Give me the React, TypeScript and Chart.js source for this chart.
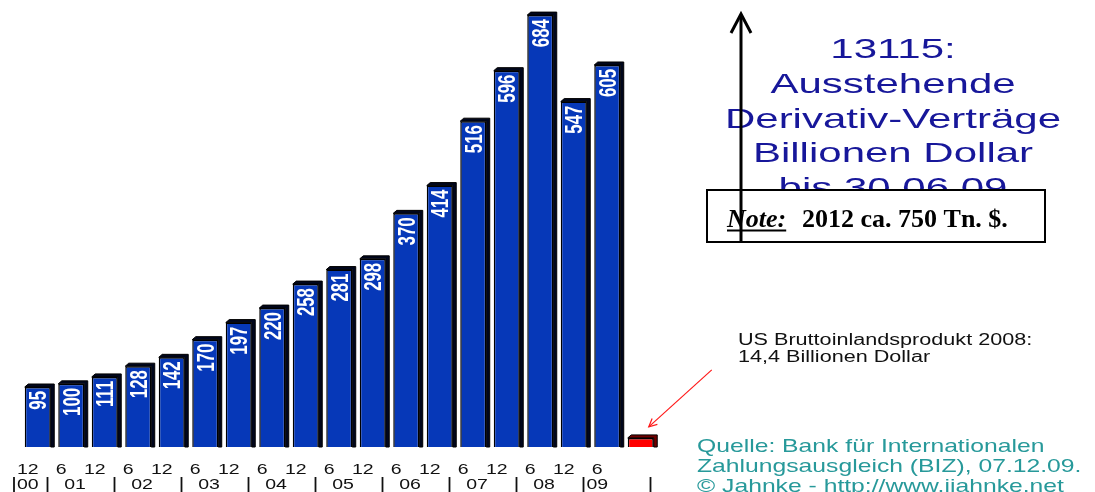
import React, { useEffect, useRef } from "react";
import { Chart, registerables } from "chart.js";

Chart.register(...registerables);

// Outstanding derivative contracts (BIZ), in Billionen Dollar, Dec 2000 .. Jun 2009
const derivativeValues = [95, 100, 111, 128, 142, 170, 197, 220, 258, 281, 298, 370, 414, 516, 596, 684, 547, 605];
// US GDP 2008 for comparison
const gdpValue = 14.4;

const periodLabels = ["12", "6", "12", "6", "12", "6", "12", "6", "12", "6", "12", "6", "12", "6", "12", "6", "12", "6", ""];
const yearLabels = ["00", "01", "02", "03", "04", "05", "06", "07", "08", "09"];

const titleLines = ["13115:", "Ausstehende", "Derivativ-Verträge", "Billionen Dollar", "bis 30.06.09"];
const noteLabel = "Note:";
const noteText = "2012 ca. 750 Tn. $.";
const gdpNoteLines = ["US Bruttoinlandsprodukt 2008:", "14,4 Billionen Dollar"];
const sourceLines = ["Quelle: Bank für Internationalen", "Zahlungsausgleich (BIZ), 07.12.09.", "© Jahnke - http://www.jjahnke.net"];

const SANS = '"Liberation Sans", Arial, sans-serif';
const SERIF = '"Liberation Serif", "Times New Roman", serif';

const BLUE = "#0638b8";
const BLUE_SIDE = "#00061c";
const RED = "#ff0000";
const RED_SIDE = "#6e0000";

function wideText(ctx: CanvasRenderingContext2D, text: string, x: number, y: number, sx: number, align: CanvasTextAlign) {
  ctx.save();
  ctx.translate(x, y);
  ctx.scale(sx, 1);
  ctx.textAlign = align;
  ctx.textBaseline = "alphabetic";
  ctx.fillText(text, 0, 0);
  ctx.restore();
}

// Draws the dark top and right faces that give each bar its depth,
// then the rotated value labels inside the bars
const depthPlugin = {
  id: "barDepth",
  beforeDatasetsDraw(chart: any) {
    const ctx: CanvasRenderingContext2D = chart.ctx;
    const meta = chart.getDatasetMeta(0);
    const dx = 3.5;
    const dy = 3;
    meta.data.forEach((bar: any, i: number) => {
      const left = bar.x - bar.width / 2;
      const right = bar.x + bar.width / 2;
      const top = bar.y;
      const base = bar.base;
      ctx.save();
      ctx.fillStyle = i === derivativeValues.length ? RED_SIDE : BLUE_SIDE;
      ctx.strokeStyle = "#000";
      ctx.lineWidth = 1;
      ctx.beginPath();
      ctx.moveTo(left, top);
      ctx.lineTo(left + dx, top - dy);
      ctx.lineTo(right + dx, top - dy);
      ctx.lineTo(right + dx, base);
      ctx.lineTo(right, base);
      ctx.lineTo(right, top);
      ctx.closePath();
      ctx.fill();
      ctx.stroke();
      ctx.restore();
    });
  },
  afterDatasetsDraw(chart: any) {
    const ctx: CanvasRenderingContext2D = chart.ctx;
    const meta = chart.getDatasetMeta(0);
    const size = 24;
    meta.data.forEach((bar: any, i: number) => {
      if (i >= derivativeValues.length) return;
      ctx.save();
      ctx.translate(bar.x, bar.y + 4);
      ctx.rotate(-Math.PI / 2);
      ctx.scale(0.7, 1);
      ctx.font = `bold ${size}px ${SANS}`;
      ctx.fillStyle = "#ffffff";
      ctx.textAlign = "right";
      ctx.textBaseline = "alphabetic";
      ctx.fillText(String(derivativeValues[i]), 0, size * 0.716 / 2);
      ctx.restore();
    });
  },
};

// Period / year labels under the bars, plus the text annotations
const annotationPlugin = {
  id: "annotations",
  afterDraw(chart: any) {
    const ctx: CanvasRenderingContext2D = chart.ctx;
    const xs = chart.scales.x;
    const px = (i: number) => xs.getPixelForValue(i);
    const half = (px(1) - px(0)) / 2;

    // month row
    ctx.save();
    ctx.fillStyle = "#111";
    ctx.font = `15px ${SANS}`;
    periodLabels.forEach((lab, i) => {
      if (lab) wideText(ctx, lab, px(i) - 10, 474, 1.3, "center");
    });

    // year separators
    ctx.strokeStyle = "#111";
    ctx.lineWidth = 1.8;
    const sepIdx = [-1, 0, 2, 4, 6, 8, 10, 12, 14, 16, 18];
    sepIdx.forEach((j) => {
      const x = px(0) + j * 2 * half + half - 7;
      ctx.beginPath();
      ctx.moveTo(x, 477);
      ctx.lineTo(x, 492);
      ctx.stroke();
    });

    // year row
    yearLabels.forEach((yl, y) => {
      let x: number;
      if (y === 0) x = px(0) - 10;
      else if (y === yearLabels.length - 1) x = px(17) - 10;
      else x = (px(2 * y - 1) + px(2 * y)) / 2 - 13;
      wideText(ctx, yl, x, 489, 1.3, "center");
    });
    ctx.restore();

    // title block
    ctx.save();
    ctx.fillStyle = "#17179a";
    ctx.font = `28px ${SANS}`;
    titleLines.forEach((line, k) => {
      wideText(ctx, line, 893, 58 + k * 34.75, 1.5, "center");
    });
    ctx.restore();

    // note box
    ctx.save();
    ctx.fillStyle = "#ffffff";
    ctx.fillRect(707, 190, 338, 52);
    ctx.strokeStyle = "#000";
    ctx.lineWidth = 2;
    ctx.strokeRect(707, 190, 338, 52);
    ctx.fillStyle = "#000";
    ctx.font = `italic bold 26px ${SERIF}`;
    ctx.textAlign = "left";
    ctx.textBaseline = "alphabetic";
    ctx.fillText(noteLabel, 727, 227);
    const nw = ctx.measureText(noteLabel).width;
    ctx.fillRect(727, 229.5, nw, 2);
    ctx.font = `bold 26px ${SERIF}`;
    ctx.fillText(noteText, 802, 227);
    ctx.restore();

    // upward arrow
    ctx.save();
    ctx.strokeStyle = "#000";
    ctx.lineWidth = 3;
    ctx.beginPath();
    ctx.moveTo(741, 242);
    ctx.lineTo(741, 15);
    ctx.stroke();
    ctx.beginPath();
    ctx.moveTo(731, 33);
    ctx.lineTo(741, 14);
    ctx.lineTo(751, 33);
    ctx.stroke();
    ctx.restore();

    // GDP note and pointer to the red bar
    ctx.save();
    ctx.fillStyle = "#111";
    ctx.font = `16px ${SANS}`;
    gdpNoteLines.forEach((line, k) => wideText(ctx, line, 738, 345 + k * 17, 1.35, "left"));
    const gdpBar: any = chart.getDatasetMeta(0).data[derivativeValues.length];
    const tipX = gdpBar.x + 8;
    const tipY = gdpBar.y - 11;
    ctx.strokeStyle = "#ff1a1a";
    ctx.lineWidth = 1.2;
    ctx.beginPath();
    ctx.moveTo(tipX + 63, tipY - 57);
    ctx.lineTo(tipX, tipY);
    ctx.stroke();
    const ang = Math.atan2(-57, 63);
    ctx.beginPath();
    ctx.moveTo(tipX + 9 * Math.cos(ang - 0.45), tipY + 9 * Math.sin(ang - 0.45));
    ctx.lineTo(tipX, tipY);
    ctx.lineTo(tipX + 9 * Math.cos(ang + 0.45), tipY + 9 * Math.sin(ang + 0.45));
    ctx.stroke();
    ctx.restore();

    // source
    ctx.save();
    ctx.fillStyle = "#27999a";
    ctx.font = `19px ${SANS}`;
    sourceLines.forEach((line, k) => wideText(ctx, line, 697, 452 + k * 20, 1.3, "left"));
    ctx.restore();
  },
};

export default function App() {
  const canvasRef = useRef<HTMLCanvasElement | null>(null);

  useEffect(() => {
    if (!canvasRef.current) return;
    const values = [...derivativeValues, gdpValue];
    const colors = values.map((_, i) => (i === derivativeValues.length ? RED : BLUE));
    const chart = new Chart(canvasRef.current, {
      type: "bar",
      data: {
        labels: periodLabels,
        datasets: [
          {
            data: values,
            backgroundColor: colors,
            borderColor: "#000",
            borderWidth: 1.5,
            barPercentage: 0.776,
            categoryPercentage: 1,
          },
        ],
      },
      options: {
        responsive: false,
        animation: false,
        devicePixelRatio: 1,
        layout: { padding: { left: 21, right: 437.5, top: 5, bottom: 45 } },
        plugins: {
          legend: { display: false },
          tooltip: { enabled: false },
          title: { display: false },
        },
        scales: {
          x: { display: false },
          y: { display: false, min: 0, max: 700 },
        },
      },
      plugins: [depthPlugin, annotationPlugin],
    });
    return () => chart.destroy();
  }, []);

  return (
    <div style={{ position: "absolute", left: 0, top: 0, width: 1095, height: 492, background: "#fff" }}>
      <canvas ref={canvasRef} width={1095} height={492} style={{ display: "block" }} />
    </div>
  );
}
